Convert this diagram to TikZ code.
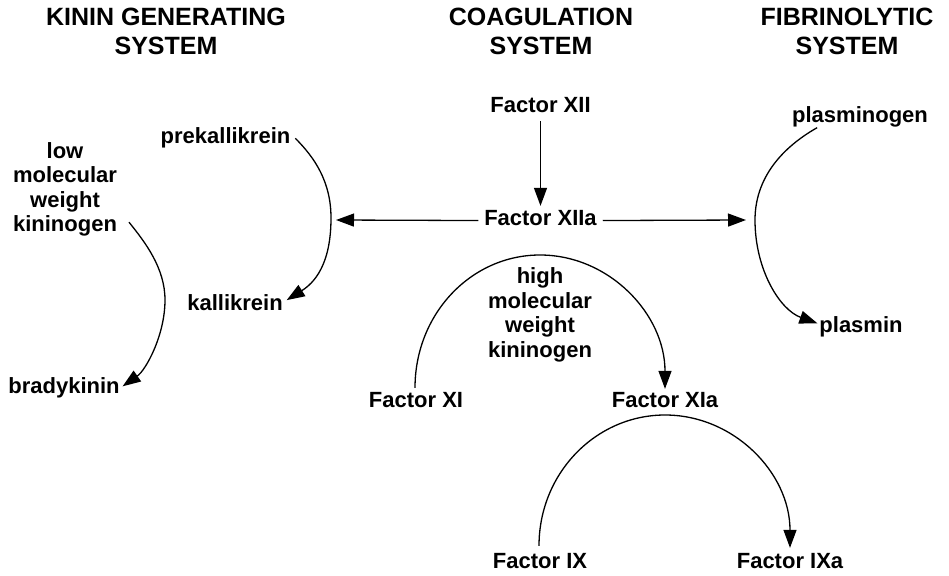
\documentclass[tikz,border=0pt]{standalone}
\usepackage{fontspec}
\setmainfont{Liberation Sans}
\usetikzlibrary{arrows.meta}
\begin{document}
\begin{tikzpicture}[x=1pt,y=-1pt,
  every node/.style={inner sep=0pt, outer sep=0pt, anchor=base, align=center},
  head/.style={font=\bfseries\fontsize{25}{29}\selectfont},
  lbl/.style={font=\bfseries\fontsize{22}{24.5}\selectfont},
  arr/.style={line width=1.3pt, -{Triangle[length=18pt,width=13pt]}}]
\useasboundingbox (0,0) rectangle (949,575);

% column headings (placed by the baseline of their last line)
\node[head] (ttlK) at (166,55) {KININ GENERATING\\SYSTEM};
\node[head] (ttlC) at (541,55) {COAGULATION\\SYSTEM};
\node[head] (ttlF) at (847,55) {FIBRINOLYTIC\\SYSTEM};

% substances
\node[lbl] (f12)   at (540.5,113) {Factor XII};
\node[lbl] (f12a)  at (540.5,225) {Factor XIIa};
\node[lbl] (prek)  at (225.5,143) {prekallikrein};
\node[lbl] (kal)   at (235,310)   {kallikrein};
\node[lbl] (lmwk)  at (65,231.5)  {low\\molecular\\weight\\kininogen};
\node[lbl] (brady) at (64,393)    {bradykinin};
\node[lbl] (hmwk)  at (540,357)   {high\\molecular\\weight\\kininogen};
\node[lbl] (f11)   at (416,407)   {Factor XI};
\node[lbl] (f11a)  at (665,407)   {Factor XIa};
\node[lbl] (f9)    at (540,568)   {Factor IX};
\node[lbl] (f9a)   at (790,568)   {Factor IXa};
\node[lbl] (plg)   at (860,122)   {plasminogen};
\node[lbl] (pl)    at (861,332)   {plasmin};

% points where the Factor XIIa arrows meet the side curves
\coordinate (kinhub)  at (336,220);
\coordinate (fibhub)  at (746,220);
\coordinate (kinbend) at (331,218);
\coordinate (lmbend)  at (165,300);
\coordinate (hmtop)   at (540,255);
\coordinate (xitop)   at (665,415);
\coordinate (fibbend) at (755,220);

% activation of Factor XII and its actions on the side systems
\draw[arr] ([shift={(0,8)}]f12.south) -- ([shift={(0,-4)}]f12a.north);
\draw[arr] ([shift={(-6,3)}]f12a.west) -- (kinhub);
\draw[arr] ([shift={(6,3)}]f12a.east) -- (fibhub);

% kinin generation
\draw[arr] ([shift={(5,1)}]prek.east) .. controls (315,158) and (331,182) .. (kinbend)
  .. controls (331,265) and (314,283) .. ([shift={(4,-2)}]kal.east);
\draw[arr] ([shift={(12,-14)}]lmwk.south east) .. controls (145,242) and (165,268) .. (lmbend)
  .. controls (165,335) and (146,370) .. ([shift={(3,-1)}]brady.east);

% coagulation cascade
\draw[arr] ([shift={(-1,-4)}]f11.north) .. controls (415,314) and (471,255) .. (hmtop)
  .. controls (609,255) and (665,314) .. ([shift={(0,-3)}]f11a.north);
\draw[arr] ([shift={(-1,-7)}]f9.north) .. controls (539,473) and (596,415) .. (xitop)
  .. controls (734,415) and (790,473) .. ([shift={(0,-5)}]f9a.north);

% fibrinolysis
\draw[arr] ([shift={(25,1)}]plg.south west) .. controls (790,143) and (755,172) .. (fibbend)
  .. controls (755,270) and (780,310) .. ([shift={(-2,-3)}]pl.west);
\end{tikzpicture}
\end{document}
